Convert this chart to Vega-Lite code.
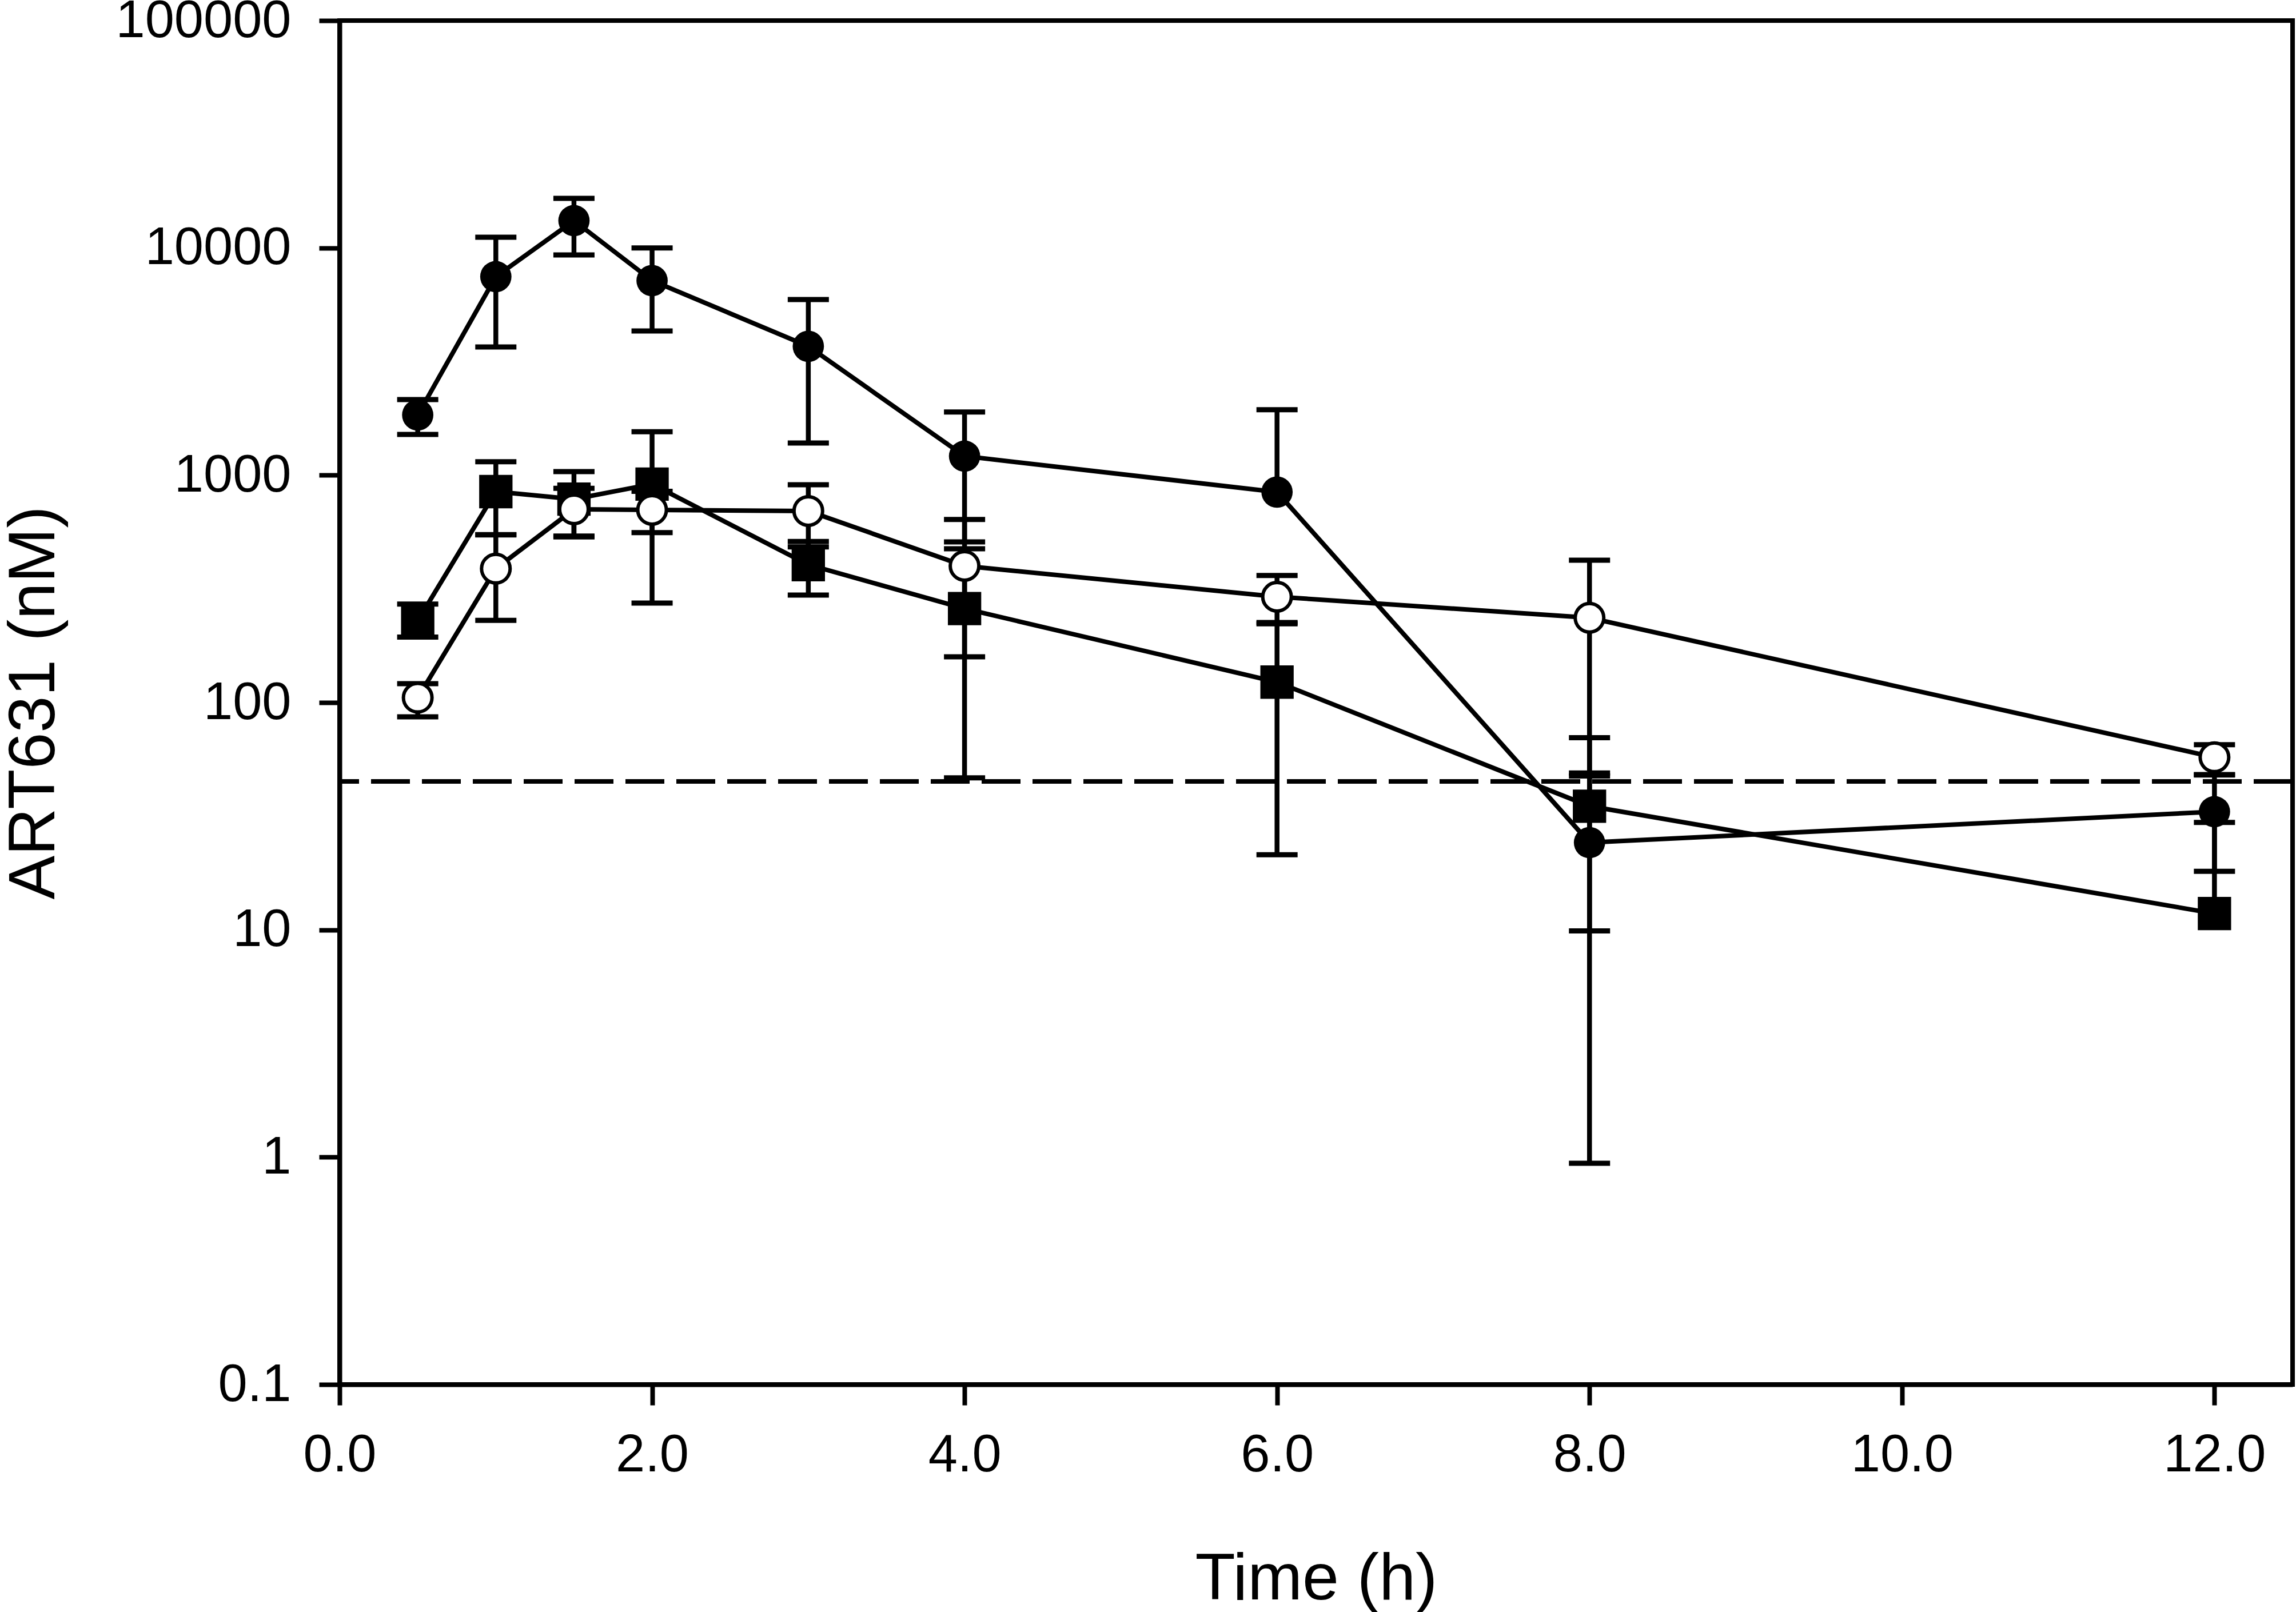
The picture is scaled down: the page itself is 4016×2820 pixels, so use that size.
{
  "$schema": "https://vega.github.io/schema/vega-lite/v6.json",
  "width": 3416,
  "height": 2386,
  "autosize": {"type": "none"},
  "padding": {"left": 594, "top": 36, "right": 6, "bottom": 398},
  "background": "white",
  "config": {
    "view": {"stroke": "black", "strokeWidth": 8},
    "font": "Liberation Sans",
    "axis": {
      "domainColor": "black",
      "domainWidth": 8,
      "tickColor": "black",
      "tickWidth": 8,
      "tickSize": 36,
      "grid": false,
      "labelFont": "Liberation Sans",
      "labelFontSize": 92,
      "labelColor": "black",
      "labelFlush": false,
      "labelOverlap": false,
      "labelBound": false,
      "labelLimit": 0,
      "titleLimit": 0,
      "titleFont": "Liberation Sans",
      "titleFontSize": 115,
      "titleFontWeight": "normal",
      "titleColor": "black"
    }
  },
  "datasets": {
    "pk": [
      {"series": "A", "t": 0.5, "v": 1841, "lo": 1511, "hi": 2153},
      {"series": "A", "t": 1, "v": 7474, "lo": 3665, "hi": 11140},
      {"series": "A", "t": 1.5, "v": 13180, "lo": 9310, "hi": 16520},
      {"series": "A", "t": 2, "v": 7180, "lo": 4313, "hi": 10000},
      {"series": "A", "t": 3, "v": 3690, "lo": 1386, "hi": 5930},
      {"series": "A", "t": 4, "v": 1213, "lo": 509, "hi": 1897},
      {"series": "A", "t": 6, "v": 843, "lo": null, "hi": 1942},
      {"series": "A", "t": 8, "v": 24.2, "lo": 0.94, "hi": 47.5},
      {"series": "A", "t": 12, "v": 33.1, "lo": 18.1, "hi": 48},
      {"series": "B", "t": 0.5, "v": 229, "lo": 194, "hi": 271},
      {"series": "B", "t": 1, "v": 847, "lo": 548, "hi": 1146},
      {"series": "B", "t": 1.5, "v": 785, "lo": 535, "hi": 1037},
      {"series": "B", "t": 2, "v": 914, "lo": 274, "hi": 1554},
      {"series": "B", "t": 3, "v": 404, "lo": 297, "hi": 511},
      {"series": "B", "t": 4, "v": 259, "lo": 46.6, "hi": 475},
      {"series": "B", "t": 6, "v": 123, "lo": 21.4, "hi": 225},
      {"series": "B", "t": 8, "v": 35, "lo": 9.9, "hi": 70},
      {"series": "B", "t": 12, "v": 11.8, "lo": null, "hi": 29.7},
      {"series": "C", "t": 0.5, "v": 105, "lo": 86.5, "hi": 121},
      {"series": "C", "t": 1, "v": 388, "lo": 230, "hi": 546},
      {"series": "C", "t": 1.5, "v": 708, "lo": 540, "hi": 876},
      {"series": "C", "t": 2, "v": 704, "lo": 559, "hi": 849},
      {"series": "C", "t": 3, "v": 696, "lo": 484, "hi": 908},
      {"series": "C", "t": 4, "v": 399, "lo": 159, "hi": 639},
      {"series": "C", "t": 6, "v": 292, "lo": 222, "hi": 362},
      {"series": "C", "t": 8, "v": 236, "lo": 49, "hi": 423},
      {"series": "C", "t": 12, "v": 57.4, "lo": 48.2, "hi": 65.2}
    ],
    "lloq": [{"limit": 45}]
  },
  "layer": [
    {
      "data": {"name": "lloq"},
      "mark": {"type": "rule", "color": "black", "strokeWidth": 8, "strokeDash": [68, 21]},
      "encoding": {
        "y": {"field": "limit", "type": "quantitative", "title": "ART631 (nM)"}
      }
    },
    {
      "data": {"name": "pk"},
      "transform": [
        {"fold": ["lo", "hi"], "as": ["end", "e"]},
        {"filter": "datum.e != null"}
      ],
      "mark": {"type": "rule", "color": "black", "strokeWidth": 8.5},
      "encoding": {
        "x": {"field": "t", "type": "quantitative", "title": "Time (h)"},
        "y": {"field": "v", "type": "quantitative", "title": "ART631 (nM)"},
        "y2": {"field": "e"}
      }
    },
    {
      "data": {"name": "pk"},
      "transform": [
        {"fold": ["lo", "hi"], "as": ["end", "e"]},
        {"filter": "datum.e != null"}
      ],
      "mark": {"type": "tick", "orient": "horizontal", "size": 72, "thickness": 9, "color": "black", "opacity": 1},
      "encoding": {
        "x": {"field": "t", "type": "quantitative", "title": "Time (h)"},
        "y": {"field": "e", "type": "quantitative", "title": "ART631 (nM)"}
      }
    },
    {
      "data": {"name": "pk"},
      "mark": {"type": "line", "color": "black", "strokeWidth": 8},
      "encoding": {
        "x": {
          "field": "t",
          "type": "quantitative",
          "title": "Time (h)",
          "scale": {"domain": [0, 12.5], "nice": false, "zero": false},
          "axis": {
            "values": [0, 2, 4, 6, 8, 10, 12],
            "format": ".1f",
            "labelPadding": 42,
            "titleY": 375,
            "titleBaseline": "alphabetic"
          }
        },
        "y": {
          "field": "v",
          "type": "quantitative",
          "title": "ART631 (nM)",
          "scale": {"type": "log", "domain": [0.1, 100000], "nice": false},
          "axis": {
            "values": [0.1, 1, 10, 100, 1000, 10000, 100000],
            "format": "~g",
            "labelPadding": 49,
            "titleX": -500,
            "titleAngle": -90,
            "titleBaseline": "alphabetic"
          }
        },
        "detail": {"field": "series", "type": "nominal"}
      }
    },
    {
      "data": {"name": "pk"},
      "transform": [{"filter": "datum.series == 'A'"}],
      "mark": {"type": "point", "shape": "circle", "filled": true, "color": "black", "size": 3000, "opacity": 1},
      "encoding": {
        "x": {"field": "t", "type": "quantitative", "title": "Time (h)"},
        "y": {"field": "v", "type": "quantitative", "title": "ART631 (nM)"}
      }
    },
    {
      "data": {"name": "pk"},
      "transform": [{"filter": "datum.series == 'B'"}],
      "mark": {"type": "point", "shape": "square", "filled": true, "color": "black", "size": 3400, "opacity": 1},
      "encoding": {
        "x": {"field": "t", "type": "quantitative", "title": "Time (h)"},
        "y": {"field": "v", "type": "quantitative", "title": "ART631 (nM)"}
      }
    },
    {
      "data": {"name": "pk"},
      "transform": [{"filter": "datum.series == 'C'"}],
      "mark": {"type": "point", "shape": "circle", "filled": true, "fill": "white", "stroke": "black", "strokeWidth": 6, "size": 2500, "opacity": 1},
      "encoding": {
        "x": {"field": "t", "type": "quantitative", "title": "Time (h)"},
        "y": {"field": "v", "type": "quantitative", "title": "ART631 (nM)"}
      }
    }
  ]
}
